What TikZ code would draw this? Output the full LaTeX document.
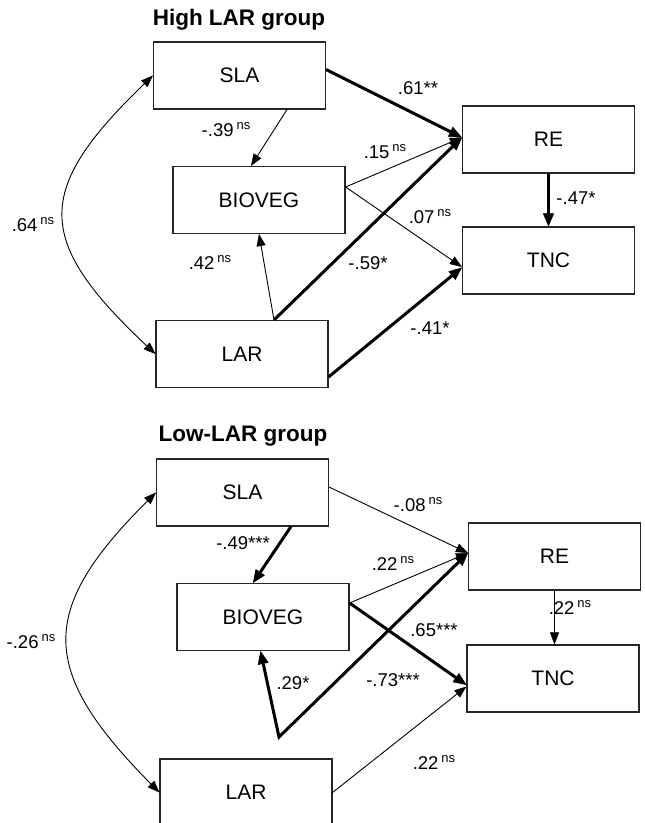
\documentclass[tikz,border=0pt]{standalone}
\usepackage{fontspec}
\setmainfont{Liberation Sans}
\usetikzlibrary{arrows.meta,calc}
\newcommand{\nsx}{\hspace{3pt}\raisebox{7pt}{\fontsize{13}{13}\selectfont ns}}
\begin{document}
\begin{tikzpicture}[x=1pt,y=-1pt,
  box/.style={draw=black!85, line width=1.1pt, minimum width=172pt, minimum height=67pt, inner sep=0pt, font=\fontsize{21}{21}\selectfont},
  lbl/.style={font=\fontsize{18.5}{19}\selectfont, inner sep=0pt},
  ttl/.style={font=\fontsize{22.5}{23}\selectfont\bfseries, inner sep=0pt},
  thinarr/.style={line width=0.9pt, -{Triangle[length=12pt,width=9pt,line width=0.5pt]}},
  thickarr/.style={line width=3pt, -{Triangle[length=13pt,width=11pt,line width=0.5pt]}},
  dblarr/.style={line width=0.9pt, {Triangle[length=12pt,width=9pt,line width=0.5pt]}-{Triangle[length=12pt,width=9pt,line width=0.5pt]}}
]
\useasboundingbox (0,0) rectangle (645,823);
\fill[white] (0,0) rectangle (645,823);

% ---------- High LAR group ----------
\node[ttl] (t1) at (239,20) {High LAR group};
\node[box] (sla1) at (239.5,75.5) {SLA};
\node[box] (re1) at (548.5,139.5) {RE};
\node[box] (bio1) at (259,200) {BIOVEG};
\node[box] (tnc1) at (548.5,260.5) {TNC};
\node[box] (lar1) at (242,354) {LAR};

\draw[thickarr] ([yshift=6pt]sla1.east) -- ([yshift=2pt]re1.west);
\draw[thinarr] ([xshift=47.5pt]sla1.south) -- ([xshift=-8pt]bio1.north);
\coordinate (b1) at ([yshift=13pt]bio1.east);
\draw[thinarr] (b1) -- ([yshift=2pt]re1.west);
\draw[thinarr] (b1) -- ([yshift=-6.5pt]tnc1.west);
\coordinate (l1) at ([xshift=32pt]lar1.north);
\draw[thinarr] (l1) -- (bio1.south);
\draw[thickarr] (l1) -- ([yshift=2pt]re1.west);
\draw[thickarr] ([yshift=-23pt]lar1.east) -- ([yshift=-7pt]tnc1.west);
\draw[thickarr] (re1.south) -- (tnc1.north);
\draw[dblarr] (sla1.west) .. controls (34,190) and (34,240) .. (lar1.west);

\node[lbl] (a1) at (418,88) {.61**};
\node[lbl] (a2) at (226,130) {-.39\nsx};
\node[lbl] (a3) at (385,152) {.15\nsx};
\node[lbl] (a4) at (576,198) {-.47*};
\node[lbl] (a5) at (430,217) {.07\nsx};
\node[lbl] (a6) at (33,225) {.64\nsx};
\node[lbl] (a7) at (210,262) {.42\nsx};
\node[lbl] (a8) at (368,263) {-.59*};
\node[lbl] (a9) at (430,328) {-.41*};

% ---------- Low-LAR group ----------
\node[ttl] (t2) at (243,436) {Low-LAR group};
\node[box] (sla2) at (242.5,492.5) {SLA};
\node[box] (re2) at (554.5,556.5) {RE};
\node[box] (bio2) at (263,617) {BIOVEG};
\node[box] (tnc2) at (553,678.5) {TNC};
\node[box] (lar2) at (246,792.5) {LAR};

\draw[thinarr] ([yshift=5.5pt]sla2.east) -- ([yshift=3.5pt]re2.west);
\draw[thickarr] ([xshift=48.5pt]sla2.south) -- ([xshift=-10pt]bio2.north);
\coordinate (b2) at ([yshift=14pt]bio2.east);
\draw[thinarr] (b2) -- ([yshift=3.5pt]re2.west);
\draw[thickarr] (b2) -- ([yshift=-6.5pt]tnc2.west);
\coordinate (k2) at (279,737);
\draw[line width=3pt, {Triangle[length=13pt,width=11pt,line width=0.5pt]}-{Triangle[length=13pt,width=11pt,line width=0.5pt]}] ([xshift=-2.5pt]bio2.south) -- (k2) -- ([yshift=3.5pt]re2.west);
\draw[thinarr] (lar2.east) -- ([yshift=-8pt]tnc2.west);
\draw[thinarr] (re2.south) -- (re2.south |- tnc2.north);
\draw[dblarr] (sla2.west) .. controls (38,610) and (38,670) .. (lar2.west);

\node[lbl] (c1) at (418,505) {-.08\nsx};
\node[lbl] (c2) at (243,543) {-.49***};
\node[lbl] (c3) at (393,563) {.22\nsx};
\node[lbl] (c4) at (570,607) {.22\nsx};
\node[lbl] (c5) at (434,630) {.65***};
\node[lbl] (c6) at (31,642) {-.26\nsx};
\node[lbl] (c7) at (293,683) {.29*};
\node[lbl] (c8) at (393,680) {-.73***};
\node[lbl] (c9) at (434,762) {.22\nsx};
\end{tikzpicture}
\end{document}
